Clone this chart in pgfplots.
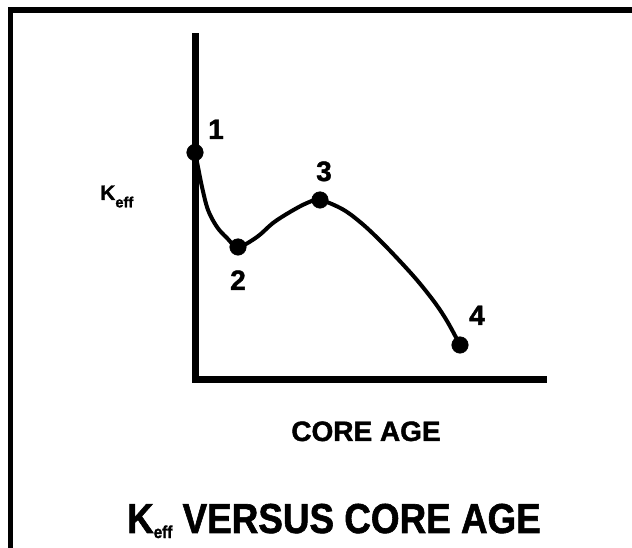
\documentclass[border=0pt]{standalone}
\usepackage{fontspec}
\setmainfont{Liberation Sans}[BoldFeatures={FakeBold=1.5}]
\usepackage{pgfplots}
\pgfplotsset{compat=1.18}
\begin{document}
\begin{tikzpicture}[x=0.75pt,y=0.75pt]
\useasboundingbox (0,0) rectangle (632,548);
% frame (top and left edges visible)
\draw[line width=3.9pt] (10.5,0) -- (10.5,538) -- (632,538);
\begin{axis}[
  at={(146.25pt,126.375pt)}, anchor=origin,
  scale only axis, width=261.375pt, height=257.25pt,
  xmin=0, xmax=348.5, ymin=0, ymax=343,
  axis lines=left,
  axis line style={-, line width=5.25pt, line cap=rect},
  xtick=\empty, ytick=\empty,
  clip=false,
]
\addplot[black, line width=3pt, smooth, tension=0.55] coordinates {
 (0,227) (3,212.5) (7,192.5) (13,169.5) (22,152.5) (32,141.5) (43,132.5)
 (62,142.5) (78,156.5) (95,167.5) (112,176.5) (125,179.5)
 (148,170) (168,155) (188,136) (208,115) (224,97) (240.5,76)
 (252.6,57.5) (265,34.5)
};
\addplot[only marks, mark=*, mark size=6.2pt, black] coordinates {
 (0,227) (43,132.5) (125,179.5) (265,34.5)
};
\end{axis}
\begin{scope}[every node/.style={font=\bfseries\fontsize{21}{21}\selectfont, inner sep=0pt}]
\node[anchor=base] at (216,548-139) {1};
\node[anchor=base] at (238,548-290) {2};
\node[anchor=base] at (324,548-181) {3};
\node[anchor=base] at (477,548-325) {4};
\node[anchor=base] at (366,548-441) {CORE AGE};
\end{scope}
\node[anchor=base west, inner sep=0pt, font=\bfseries\fontsize{15.7}{15.7}\selectfont] at (100,548-200) {K\raisebox{-0.35em}{\fontsize{11}{11}\selectfont eff}};
\node[anchor=base, inner sep=0pt, font=\bfseries\fontsize{31.4}{31.4}\selectfont] at (334,548-533) {\scalebox{0.88}[1]{K\raisebox{-0.12em}{\fontsize{13}{13}\selectfont eff} VERSUS CORE AGE}};
\end{tikzpicture}
\end{document}
